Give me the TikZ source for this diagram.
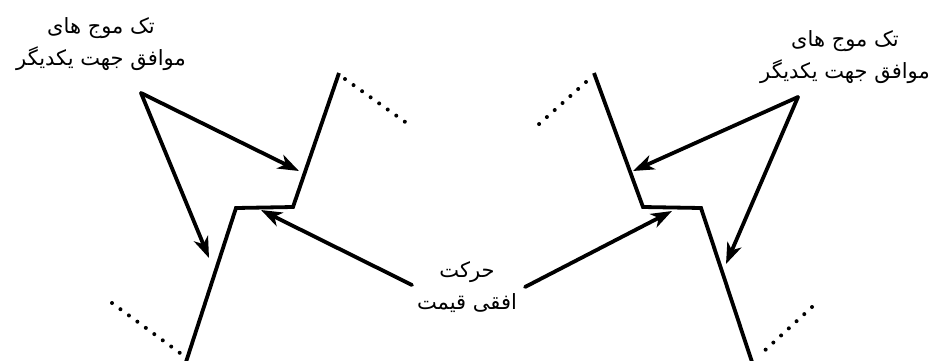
\documentclass[tikz,border=0pt]{standalone}
\usepackage{fontspec}
\usetikzlibrary{arrows.meta}
\TeXXeTstate=1
\newfontfamily\arabicfont[Script=Arabic]{DejaVu Sans}
\begin{document}
\begin{tikzpicture}[x=1pt,y=-1pt,
  wave/.style={line width=3.8pt,line join=miter},
  pointer/.style={line width=3.8pt,line cap=round,-{Stealth[length=21pt,width=15pt,inset=6pt]}},
  dots/.style={line width=4pt,line cap=round,dash pattern=on 0pt off 10.5pt},
  label/.style={font=\arabicfont\fontsize{21}{32}\selectfont,align=center,inner sep=0pt}]
\useasboundingbox (0,0) rectangle (938,360);
% left zigzag
\coordinate (l1) at (339,73);
\coordinate (l2) at (293,207);
\coordinate (l3) at (236,208);
\coordinate (l4) at (186,362);
\draw[wave] (l1) -- (l2) -- (l3) -- (l4);
\coordinate (ld1) at (345,79);
\coordinate (ld2) at (408,124);
\draw[dots] (ld1) -- (ld2);
\coordinate (ld3) at (112,303);
\coordinate (ld4) at (180,353);
\draw[dots] (ld3) -- (ld4);
% right zigzag
\coordinate (r1) at (594,73);
\coordinate (r2) at (643,207);
\coordinate (r3) at (701,208);
\coordinate (r4) at (752,362);
\draw[wave] (r1) -- (r2) -- (r3) -- (r4);
\coordinate (rd1) at (586,82);
\coordinate (rd2) at (538,125);
\draw[dots] (rd1) -- (rd2);
\coordinate (rd3) at (812,307);
\coordinate (rd4) at (762,353);
\draw[dots] (rd3) -- (rd4);
% labels
\node[label] (tl) at (101,44) {\beginR تک موج های\endR\\\beginR موافق جهت یکدیگر\endR};
\node[label] (tr) at (845,57) {\beginR تک موج های\endR\\\beginR موافق جهت یکدیگر\endR};
\node[label] (mid) at (467,287) {\beginR حرکت\endR\\\beginR افقی قیمت\endR};
% arrows
\coordinate (la) at (141,93);
\coordinate (lt1) at (299,171);
\coordinate (lt2) at (209,258);
\draw[pointer] (la) -- (lt1);
\draw[pointer] (la) -- (lt2);
\coordinate (ra) at (798,97);
\coordinate (rt1) at (633,171);
\coordinate (rt2) at (726,264);
\draw[pointer] (ra) -- (rt1);
\draw[pointer] (ra) -- (rt2);
\coordinate (ms1) at (412,285);
\coordinate (mt1) at (261,210);
\coordinate (ms2) at (525,287);
\coordinate (mt2) at (672,211);
\draw[pointer] (ms1) -- (mt1);
\draw[pointer] (ms2) -- (mt2);
\end{tikzpicture}
\end{document}
